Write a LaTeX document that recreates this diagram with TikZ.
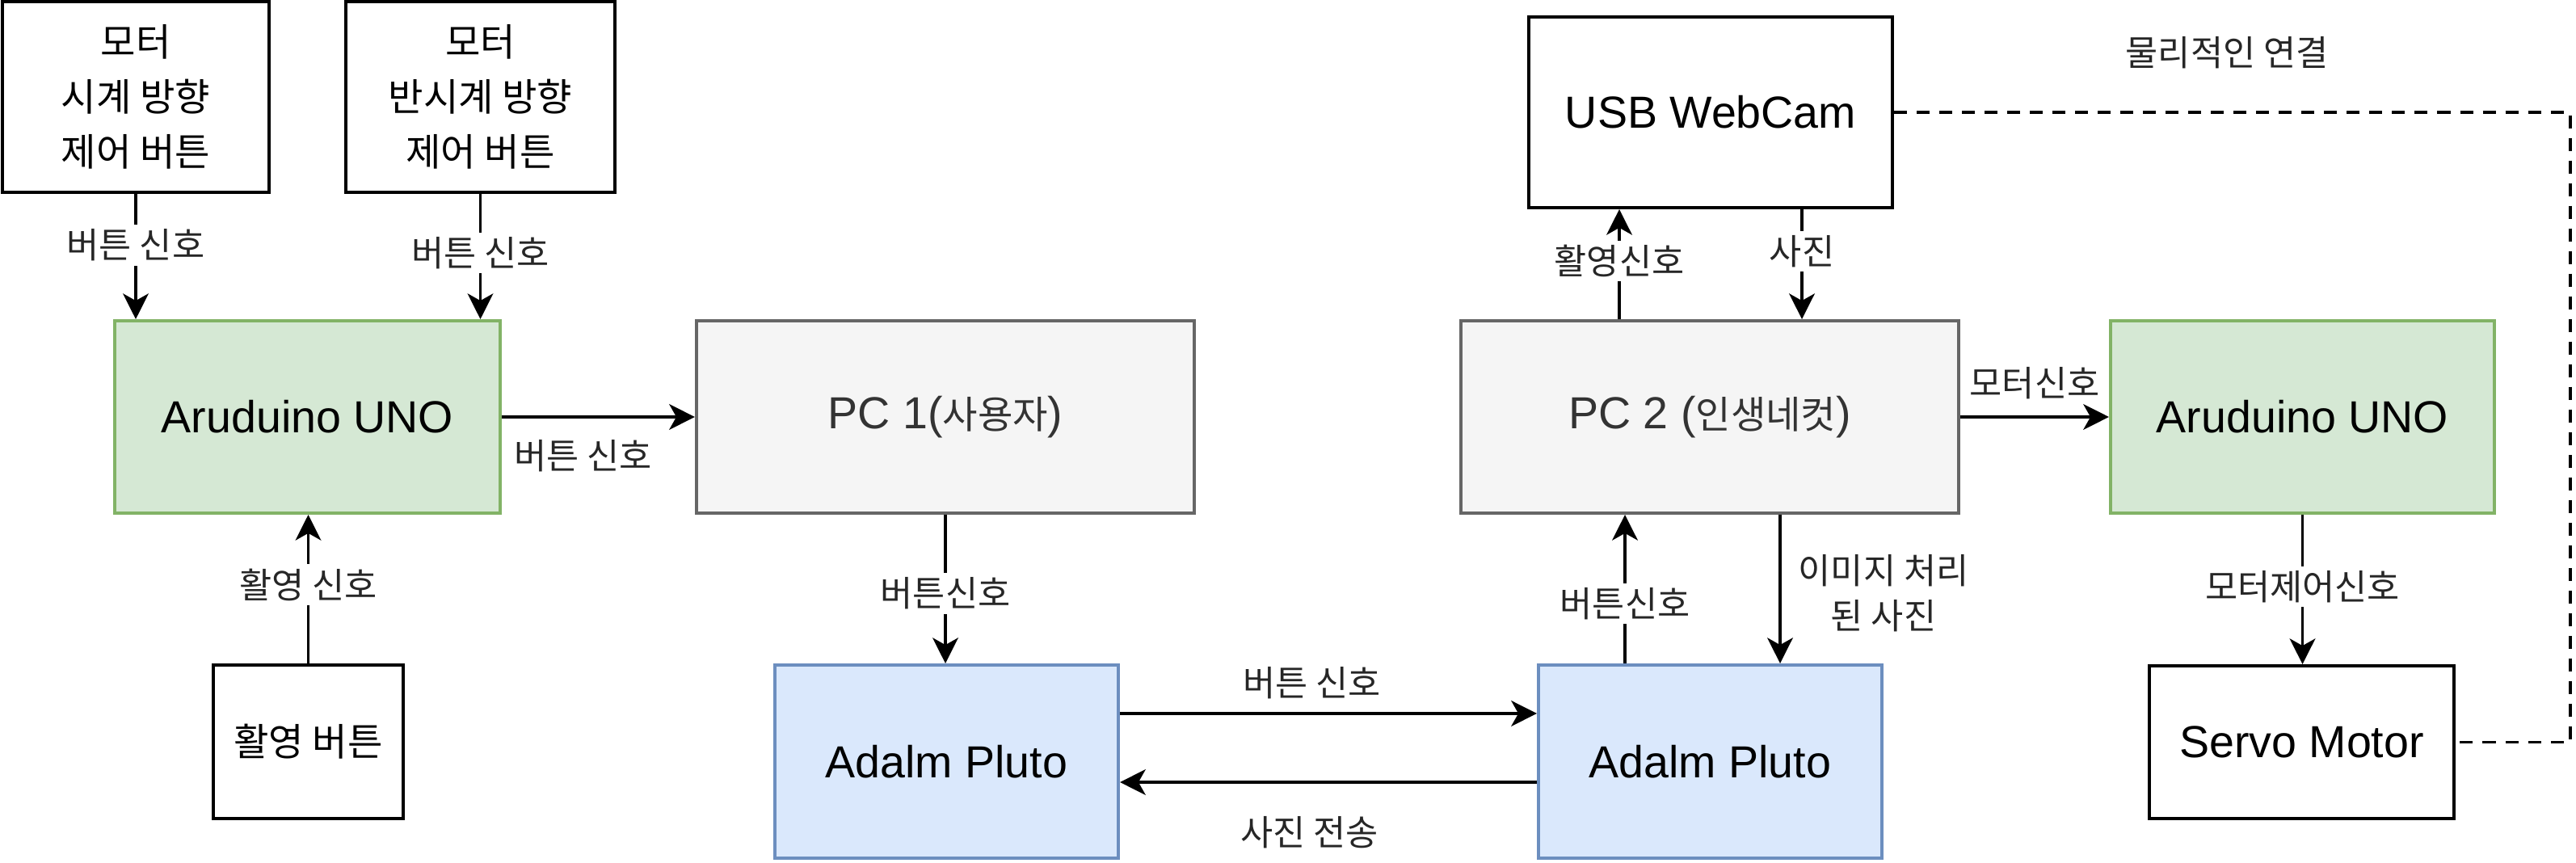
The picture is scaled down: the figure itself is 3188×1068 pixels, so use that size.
\documentclass[tikz,border=0pt]{standalone}
\usepackage{fontspec}
\setmainfont{Liberation Sans}
\newfontfamily\kr{Noto Sans CJK KR}[Scale=0.85]
\usetikzlibrary{arrows.meta,calc}
\definecolor{gfill}{HTML}{D5E8D4}
\definecolor{gline}{HTML}{82B366}
\definecolor{bfill}{HTML}{DAE8FC}
\definecolor{bline}{HTML}{6C8EBF}
\definecolor{pfill}{HTML}{F5F5F5}
\definecolor{pline}{HTML}{666666}
\definecolor{ptext}{HTML}{333333}
\begin{document}
\begin{tikzpicture}[x=0.01cm,y=-0.01cm,
  box/.style={draw=black, line width=1.1pt, fill=white, align=center, inner sep=0pt,
    font=\fontsize{15.8}{19.4}\selectfont},
  kbox/.style={box, font=\fontsize{15.8}{19.4}\selectfont\kr},
  gbox/.style={box, draw=gline, fill=gfill},
  bbox/.style={box, draw=bline, fill=bfill},
  pbox/.style={box, draw=pline, fill=pfill, text=ptext},
  arr/.style={line width=1.1pt, -{Stealth[length=9pt,width=9pt,inset=2.5pt]}},
  lbl/.style={font=\fontsize{14.6}{15.9}\selectfont\kr, fill=white, inner sep=1.5pt,
    text=black!85, align=center},
  dashline/.style={line width=1pt, dash pattern=on 0.16cm off 0.12cm}
]
\useasboundingbox (0,0) rectangle (3188,1068);

% boxes
\node[kbox, minimum width=3.30cm, minimum height=2.36cm] (b1) at (168,120) {모터\\시계 방향\\제어 버튼};
\node[kbox, minimum width=3.33cm, minimum height=2.36cm] (b2) at (594.5,120) {모터\\반시계 방향\\제어 버튼};
\node[gbox, minimum width=4.77cm, minimum height=2.38cm] (ard1) at (380.5,516) {Aruduino UNO};
\node[pbox, minimum width=6.16cm, minimum height=2.38cm] (pc1) at (1170,516) {PC 1({\kr 사용자})};
\node[kbox, minimum width=2.35cm, minimum height=1.90cm] (shoot) at (381.5,918) {활영 버튼};
\node[bbox, minimum width=4.25cm, minimum height=2.39cm] (ad1) at (1171.5,942.5) {Adalm Pluto};
\node[box, minimum width=4.50cm, minimum height=2.36cm] (usb) at (2117,139) {USB WebCam};
\node[pbox, minimum width=6.16cm, minimum height=2.38cm] (pc2) at (2116,516) {PC 2 ({\kr 인생네컷})};
\node[gbox, minimum width=4.75cm, minimum height=2.38cm] (ard2) at (2849.5,516) {Aruduino UNO};
\node[bbox, minimum width=4.25cm, minimum height=2.39cm] (ad2) at (2116.5,942.5) {Adalm Pluto};
\node[box, minimum width=3.77cm, minimum height=1.89cm] (servo) at (2848.5,918.5) {Servo Motor};

% helper coordinates
\coordinate (u1) at (2004,0);
\coordinate (u2) at (2230,0);
\coordinate (d1) at (2011,0);
\coordinate (d2) at (2203,0);
\coordinate (cr1) at (3181,139);
\coordinate (cr2) at (3181,918.5);

% connectors
\draw[arr] (b1.south) -- (b1.south |- ard1.north) node[lbl,pos=0.41]{버튼 신호};
\draw[arr] (b2.south) -- (b2.south |- ard1.north) node[lbl,pos=0.47]{버튼 신호};
\draw[arr] (ard1.east) -- (pc1.west) node[lbl,pos=0.42,yshift=-0.48cm,fill=none]{버튼 신호};
\draw[arr] (shoot.north) -- (shoot.north |- ard1.south) node[lbl,pos=0.53]{활영 신호};
\draw[arr] (pc1.south) -- (pc1.south |- ad1.north) node[lbl,pos=0.53]{버튼신호};
\draw[arr] ([yshift=0.595cm]ad1.east) -- ([yshift=0.595cm]ad2.west) node[lbl,pos=0.46,yshift=0.38cm,fill=none]{버튼 신호};
\draw[arr] ([yshift=-0.255cm]ad2.west) -- ([yshift=-0.255cm]ad1.east) node[lbl,pos=0.545,yshift=-0.62cm,fill=none]{사진 전송};
\draw[arr] (u1 |- pc2.north) -- (u1 |- usb.south) node[lbl,pos=0.53]{활영신호};
\draw[arr] (u2 |- usb.south) -- (u2 |- pc2.north) node[lbl,pos=0.38]{사진};
\draw[arr] (d1 |- ad2.north) -- (d1 |- pc2.south) node[lbl,pos=0.40]{버튼신호};
\draw[arr] (d2 |- pc2.south) -- (d2 |- ad2.north) node[lbl,pos=0.53,xshift=1.28cm,fill=none]{이미지 처리\\된 사진};
\draw[arr] (pc2.east) -- (ard2.west) node[lbl,pos=0.5,yshift=0.42cm,fill=none]{모터신호};
\draw[arr] (ard2.south) -- (ard2.south |- servo.north) node[lbl,pos=0.48]{모터제어신호};
\draw[dashline] (usb.east) -- (cr1) -- (cr2) -- (servo.east);

\node[lbl, fill=none] (phys) at (2756,65) {물리적인 연결};
\end{tikzpicture}
\end{document}
